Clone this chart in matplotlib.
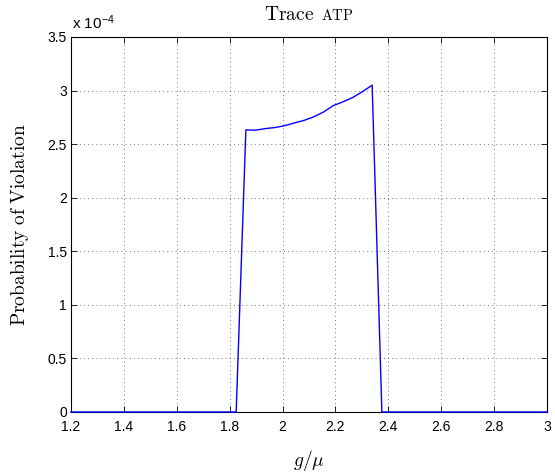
import numpy as np
import matplotlib
matplotlib.use('Agg')
import matplotlib.pyplot as plt
from matplotlib.ticker import FuncFormatter, MultipleLocator
from matplotlib.offsetbox import TextArea, HPacker, AnchoredOffsetbox

plt.rcParams['mathtext.fontset'] = 'cm'
plt.rcParams['font.family'] = ['Liberation Sans', 'DejaVu Sans']

# load ratio g/mu sampled on 50 points, violation probability (x 1e-4)
g_over_mu = np.linspace(1.2, 3.0, 50)
violation_e4 = np.zeros(50)
violation_e4[18:32] = [2.633, 2.630, 2.645, 2.655, 2.672, 2.698, 2.722,
                       2.755, 2.800, 2.860, 2.895, 2.935, 2.990, 3.050]
violation = violation_e4 * 1e-4

fig = plt.figure(figsize=(5.55, 4.76), dpi=100)
ax = fig.add_axes([0.128, 0.1345, 0.8576, 0.7878])

ax.plot(g_over_mu, violation, color='#0000ff', lw=1.0, clip_on=False, zorder=3)

ax.set_xlim(1.2, 3.0)
ax.set_ylim(0, 3.5e-4)
ax.xaxis.set_major_locator(MultipleLocator(0.2))
ax.yaxis.set_major_locator(MultipleLocator(0.5e-4))
ax.xaxis.set_major_formatter(FuncFormatter(lambda v, p: f'{v:g}'))
ax.yaxis.set_major_formatter(FuncFormatter(lambda v, p: f'{round(v * 1e4, 2):g}'))
ax.tick_params(direction='in', top=True, right=True, length=4, width=0.6,
               labelsize=10, colors='black', pad=3)
ax.tick_params(axis='x', pad=6)
ax.grid(True, linestyle=(0, (1, 4)), color='#444444', lw=0.6)
for s in ax.spines.values():
    s.set_linewidth(0.8)

ax.text(0.003, 1.012, r'x 10$^{\mathregular{-4}}$', transform=ax.transAxes,
        fontsize=11, ha='left', va='bottom')

ax.set_xlabel(r'$g/\mu$', fontsize=14, labelpad=10)
ax.set_ylabel(r'$\mathrm{Probability\ of\ Violation}$', fontsize=14, labelpad=12)

# title with small-caps acronym
title_parts = HPacker(children=[
    TextArea(r'$\mathrm{Trace}$', textprops=dict(fontsize=14)),
    TextArea(r'$\mathrm{ATP}$', textprops=dict(fontsize=10.5)),
], align='baseline', pad=0, sep=5)
title_box = AnchoredOffsetbox(loc='lower center', child=title_parts, pad=0,
                              frameon=False, bbox_to_anchor=(0.5, 1.035),
                              bbox_transform=ax.transAxes, borderpad=0)
ax.add_artist(title_box)

fig.savefig('out.png', dpi=100)
